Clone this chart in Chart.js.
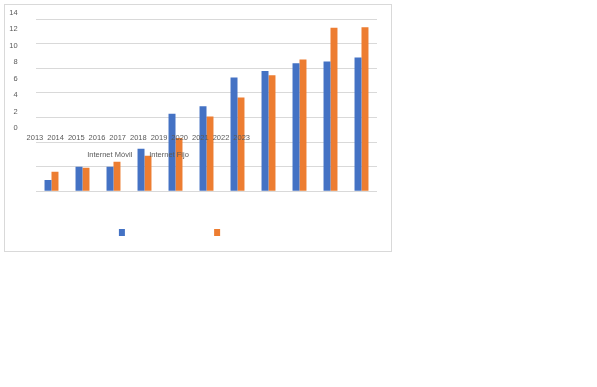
<!DOCTYPE html>
<html>
<head>
<meta charset="utf-8">
<script src="https://cdn.jsdelivr.net/npm/chart.js@4.4.1/dist/chart.umd.min.js"></script>
<style>
    body { margin: 0; background: #fff; }
    #frame { position: absolute; left: 4px; top: 4px; width: 388px; height: 248px; box-sizing: border-box; border: 1px solid #d9d9d9; }
    #barras { position: absolute; left: 5px; top: 5px; }
    #rotulos { position: absolute; left: 0px; top: 0px; }
</style>
</head>
<body>
<div id="frame"></div>
<canvas id="barras" width="386" height="244"></canvas>
<canvas id="rotulos" width="264" height="169"></canvas>
<script>
const anos = ["2013", "2014", "2015", "2016", "2017", "2018", "2019", "2020", "2021", "2022", "2023"];
const internetMovil = [0.92, 1.98, 1.98, 3.45, 6.3, 6.9, 9.25, 9.78, 10.4, 10.55, 10.88];
const internetFijo = [1.58, 1.9, 2.4, 2.88, 4.33, 6.07, 7.62, 9.42, 10.7, 13.28, 13.32];
const nomesSeries = ["Internet Móvil", "Internet Fijo"];
const yMin = 0;
const yMax = 14;
const yPasso = 2;

const azul = '#4472C4';
const laranja = '#ED7D31';
const cinzaTexto = '#595959';
const cinzaGrade = '#d9d9d9';
const invisivel = 'rgba(0,0,0,0)';

// grafico principal: barras, grade e quadradinhos da legenda
function montaBarras() {
    const ctx = document.getElementById('barras').getContext('2d');
    return new Chart(ctx, {
        type: 'bar',
        data: {
            labels: anos,
            datasets: [{
                label: nomesSeries[0],
                data: internetMovil,
                backgroundColor: azul,
                categoryPercentage: 0.45,
                barPercentage: 1.0
            },
            {
                label: nomesSeries[1],
                data: internetFijo,
                backgroundColor: laranja,
                categoryPercentage: 0.45,
                barPercentage: 1.0
            }]
        },
        options: {
            responsive: false,
            animation: false,
            devicePixelRatio: 1,
            layout: { padding: { left: 31, right: 14, top: 14, bottom: 0 } },
            plugins: {
                tooltip: { enabled: false },
                legend: {
                    position: 'bottom',
                    labels: {
                        boxWidth: 6,
                        boxHeight: 7,
                        padding: 6,
                        color: invisivel,
                        font: { family: 'Liberation Sans', size: 12.8 }
                    }
                }
            },
            scales: {
                x: {
                    ticks: { display: false },
                    grid: { display: false },
                    border: { display: false },
                    afterFit: (scale) => { scale.height = 29; }
                },
                y: {
                    min: yMin,
                    max: yMax,
                    ticks: { display: false, stepSize: yPasso },
                    grid: { color: cinzaGrade, drawTicks: false, lineWidth: 1 },
                    border: { display: false },
                    afterFit: (scale) => { scale.width = 0; }
                }
            }
        }
    });
}

// rotulos dos eixos e texto da legenda, deslocados como no original
function montaRotulos() {
    const ctx = document.getElementById('rotulos').getContext('2d');
    const fonte = { family: 'Liberation Sans', size: 7.5 };
    return new Chart(ctx, {
        type: 'bar',
        data: {
            labels: anos,
            datasets: [{
                label: nomesSeries[0],
                data: internetMovil,
                backgroundColor: invisivel,
                borderColor: invisivel,
                borderWidth: 0
            },
            {
                label: nomesSeries[1],
                data: internetFijo,
                backgroundColor: invisivel,
                borderColor: invisivel,
                borderWidth: 0
            }]
        },
        options: {
            responsive: false,
            animation: false,
            devicePixelRatio: 1,
            layout: { padding: { left: 0, right: 0, top: 13, bottom: 0 } },
            plugins: {
                tooltip: { enabled: false },
                legend: {
                    position: 'bottom',
                    labels: {
                        boxWidth: 8.25,
                        boxHeight: 0,
                        padding: 5,
                        color: cinzaTexto,
                        font: fonte
                    }
                }
            },
            scales: {
                x: {
                    ticks: { color: cinzaTexto, font: fonte, padding: 5.5, maxRotation: 0, autoSkip: false },
                    grid: { display: false, drawTicks: false },
                    border: { display: false },
                    afterFit: (scale) => { scale.height = 18.5; }
                },
                y: {
                    min: yMin,
                    max: yMax,
                    ticks: { color: cinzaTexto, font: fonte, stepSize: yPasso, padding: 7 },
                    grid: { display: false, drawTicks: false },
                    border: { display: false },
                    afterFit: (scale) => { scale.width = 24.6; }
                },
                // eixo vazio a direita so para empurrar a legenda
                yVazio: {
                    position: 'right',
                    ticks: { display: false },
                    grid: { display: false, drawTicks: false },
                    border: { display: false },
                    afterFit: (scale) => { scale.width = 12; }
                }
            }
        }
    });
}

montaBarras();
montaRotulos();
</script>
</body>
</html>
